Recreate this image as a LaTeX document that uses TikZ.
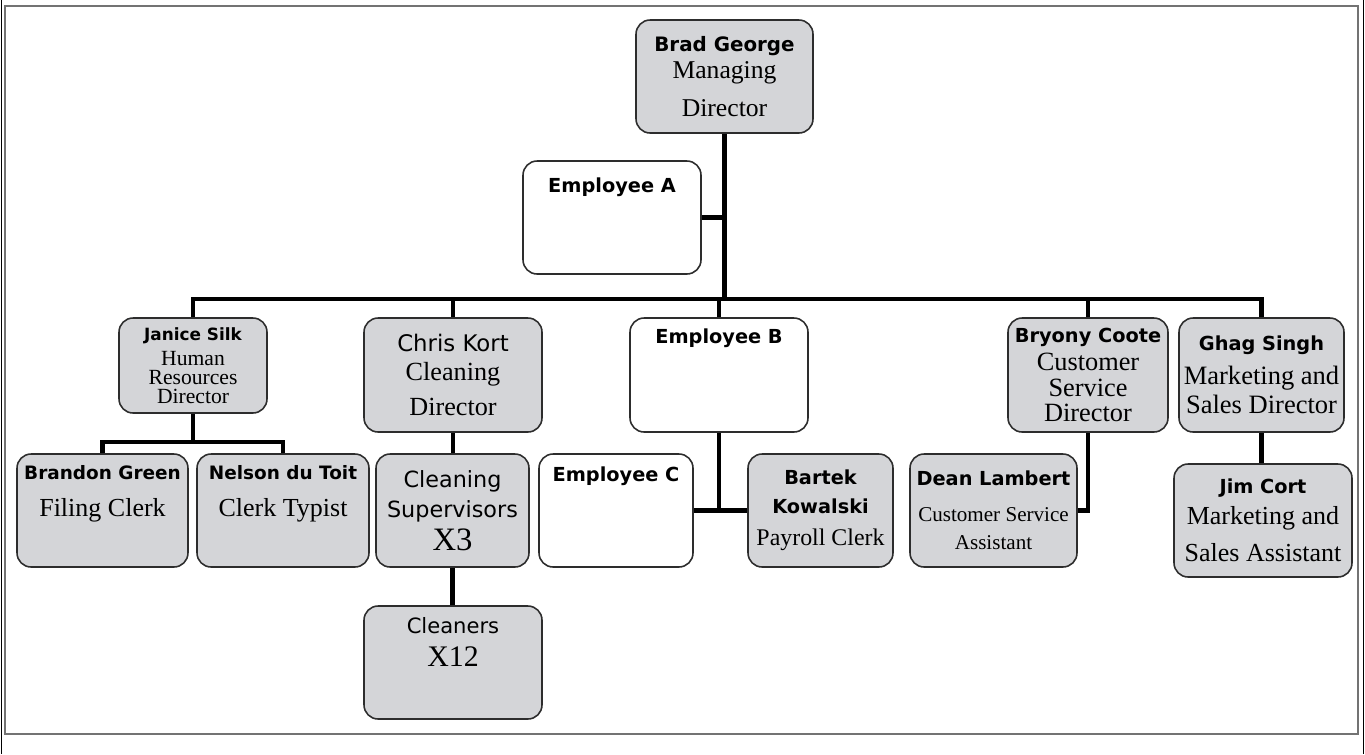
\documentclass[tikz,border=0pt]{standalone}
\usepackage{fontspec}
\setmainfont{Liberation Serif}
\newfontfamily\comicf{DejaVu Sans}
\definecolor{gc}{RGB}{212,213,216}
\definecolor{bc}{RGB}{45,45,45}
\newcommand{\bn}[2][11]{{\comicf\bfseries\fontsize{#1}{#1}\selectfont #2}}
\newcommand{\rn}[2][13]{{\comicf\fontsize{#1}{#1}\selectfont #2}}
\tikzset{gb/.style={draw=bc,fill=gc,line width=.9pt,rounded corners=8pt,align=center,inner sep=0pt},
 wb/.style={gb,fill=white},
 tl/.style={anchor=north,align=center,inner sep=0pt},
 wire/.style={line width=2.3pt},
 frame/.style={draw=black!55,line width=1.1pt}}
\begin{document}
\begin{tikzpicture}[x=0.02cm,y=-0.02cm]
\useasboundingbox (0,0) rectangle (1365,754);
\draw[frame] (5,6) rectangle (1358,734);
\draw[line width=.8pt] (1.5,0) -- (1.5,754) (1363.5,0) -- (1363.5,754);
% top
\node[gb,minimum width=3.54cm,minimum height=2.26cm,font=\fontsize{14.6}{21.5}\selectfont] (brad) at (724.5,76.5) {\bn[11.3]{Brad George}\\[-6pt]Managing\\Director};
\node[wb,minimum width=3.56cm,minimum height=2.26cm,label={[tl,yshift=-9.6pt]north:\bn{Employee A}}] (empA) at (612,217.5) {};
% second row
\node[gb,minimum width=2.96cm,minimum height=1.90cm,font=\fontsize{12.3}{10.8}\selectfont] (janice) at (193,365.5) {\bn[9.6]{Janice Silk}\\[3.4pt]Human\\Resources\\Director};
\node[gb,minimum width=3.56cm,minimum height=2.28cm,font=\fontsize{14.9}{20.4}\selectfont] (chris) at (453,375) {\rn{Chris Kort}\\[-4pt]Cleaning\\Director};
\node[wb,minimum width=3.56cm,minimum height=2.28cm,label={[tl,yshift=-6.2pt]north:\bn{Employee B}}] (empB) at (719,375) {};
\node[gb,minimum width=3.20cm,minimum height=2.28cm,font=\fontsize{15}{14.5}\selectfont] (bryony) at (1088,375) {\bn{Bryony Coote}\\[1.4pt]Customer\\Service\\Director};
\node[gb,minimum width=3.30cm,minimum height=2.28cm,font=\fontsize{15.1}{16.4}\selectfont] (ghag) at (1261.5,375) {\bn{Ghag Singh}\\[2.9pt]Marketing and\\Sales Director};
% third row
\node[gb,minimum width=3.42cm,minimum height=2.26cm,label={[tl,yshift=-6.8pt,font=\fontsize{14.8}{21}\selectfont]north:{\bn[10.5]{Brandon Green}\\Filing Clerk}}] (brandon) at (102.5,510.5) {};
\node[gb,minimum width=3.44cm,minimum height=2.26cm,label={[tl,yshift=-6.8pt,font=\fontsize{14.8}{21}\selectfont]north:{\bn[10.5]{Nelson du Toit}\\Clerk Typist}}] (nelson) at (283,510.5) {};
\node[gb,minimum width=3.06cm,minimum height=2.26cm,font=\fontsize{18.6}{18.7}\selectfont] (sup) at (452.5,510.5) {\rn[12.7]{Cleaning}\\[-1.7pt]\rn[12.7]{Supervisors}\\X3};
\node[wb,minimum width=3.08cm,minimum height=2.26cm,label={[tl,yshift=-7.4pt]north:\bn{Employee C}}] (empC) at (616,510.5) {};
\node[gb,minimum width=2.90cm,minimum height=2.26cm,font=\fontsize{13.6}{18.1}\selectfont] (bartek) at (820.5,510.5) {\bn{Bartek}\\[-1.7pt]\bn{Kowalski}\\Payroll Clerk};
\node[gb,minimum width=3.34cm,minimum height=2.26cm,font=\fontsize{12}{15.9}\selectfont] (dean) at (993.5,510.5) {\bn{Dean Lambert}\\[4.5pt]Customer Service\\Assistant};
\node[gb,minimum width=3.56cm,minimum height=2.26cm,font=\fontsize{14.8}{21}\selectfont] (jim) at (1263,520.5) {\bn{Jim Cort}\\[-3.4pt]Marketing and\\Sales Assistant};
\node[gb,minimum width=3.56cm,minimum height=2.26cm,label={[tl,yshift=-6.8pt,font=\fontsize{17}{18.7}\selectfont]north:{\rn[12]{Cleaners}\\X12}}] (cleaners) at (453,662.5) {};
% lines
\coordinate (bus) at (724.5,299);
\coordinate (jbus) at (193,442);
\draw[wire] (brad.south) -- (bus);
\draw[wire] (empA.east) -- (empA.east -| bus);
\draw[wire] (janice.north) |- (bus) -| (ghag.north);
\foreach \n in {chris,empB,bryony}{\draw[wire] (\n.north) -- (\n.north |- bus);}
\draw[wire] (janice.south) -- (jbus);
\draw[wire] (brandon.north) |- (jbus) -| (nelson.north);
\foreach \u/\v in {chris/sup,sup/cleaners}{\draw[wire] (\u.south) -- (\u.south |- \v.north);}
\draw[wire] (empB.south) -- (empB.south |- empC.east);
\draw[wire] (empC.east) -- (bartek.west);
\draw[wire] (bryony.south) |- (dean.east);
\draw[wire] (ghag.south) -- (ghag.south |- jim.north);
\end{tikzpicture}
\end{document}
